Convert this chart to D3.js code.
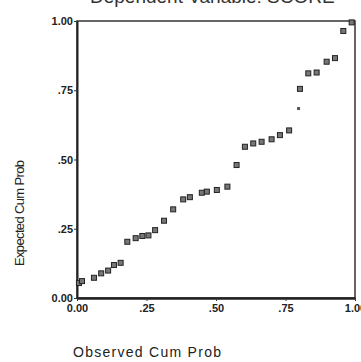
<!DOCTYPE html>
<html>
<head>
<meta charset="utf-8">
<script src="https://cdn.jsdelivr.net/npm/d3@7"></script>
<style>
  body { margin: 0; background: #fff; }
  svg { display: block; }
  .tick text { font-family: "Liberation Sans", Arial, sans-serif; font-weight: bold; font-size: 11px; fill: #222; }
</style>
</head>
<body>
<div id="chart"></div>
<script>
// observed cumulative probability (x) vs expected (y)
const observed = [0.007, 0.018, 0.061, 0.087, 0.112, 0.133, 0.157, 0.181, 0.211, 0.235,
  0.257, 0.281, 0.313, 0.346, 0.382, 0.406, 0.449, 0.467, 0.503, 0.541,
  0.574, 0.604, 0.634, 0.664, 0.700, 0.730, 0.763, 0.802, 0.832, 0.862,
  0.898, 0.928, 0.958, 0.988];
const expected = [0.054, 0.061, 0.073, 0.089, 0.099, 0.119, 0.127, 0.203, 0.216, 0.224,
  0.226, 0.245, 0.279, 0.320, 0.356, 0.364, 0.380, 0.384, 0.390, 0.402,
  0.480, 0.546, 0.558, 0.564, 0.573, 0.588, 0.605, 0.755, 0.811, 0.814,
  0.853, 0.866, 0.964, 0.995];
// a faint stray mark in the scan
const strayPoint = [0.797, 0.684];

const tickValues = [0, 0.25, 0.5, 0.75, 1];
const yTickLabels = ["0.00", ".25", ".50", ".75", "1.00"];
const xTickLabels = ["0.00", ".25", ".50", ".75", "1.00"];

const title = "Dependent Variable: SCORE";
const xTitle = "Observed Cum Prob";
const yTitle = "Expected Cum Prob";

const width = 361, height = 362;
const margin = { top: 21, right: 6, bottom: 64, left: 77 };

const svg = d3.select("#chart").append("svg")
  .attr("width", width)
  .attr("height", height);

const x = d3.scaleLinear().domain([0, 1]).range([margin.left, width - margin.right]);
const y = d3.scaleLinear().domain([0, 1]).range([height - margin.bottom, margin.top]);

// frame
svg.append("rect")
  .attr("x", x(0)).attr("y", y(1))
  .attr("width", x(1) - x(0)).attr("height", y(0) - y(1))
  .attr("fill", "none")
  .attr("stroke", "#333")
  .attr("stroke-width", 1.5);

// axes
const yAxis = svg.append("g")
  .attr("transform", "translate(" + x(0) + ",0)")
  .call(d3.axisLeft(y).tickValues(tickValues).tickSize(3).tickSizeOuter(0)
    .tickFormat((d, i) => yTickLabels[i]));
yAxis.select(".domain").attr("stroke", "#222").attr("stroke-width", 2);
yAxis.selectAll(".tick line").attr("stroke", "#333");
yAxis.selectAll(".tick text").attr("x", -4);

const xAxis = svg.append("g")
  .attr("transform", "translate(0," + y(0) + ")")
  .call(d3.axisBottom(x).tickValues(tickValues).tickSize(3).tickSizeOuter(0)
    .tickFormat((d, i) => xTickLabels[i]));
xAxis.select(".domain").attr("stroke", "#222").attr("stroke-width", 2.5);
xAxis.selectAll(".tick line").attr("stroke", "#333");
xAxis.selectAll(".tick text").attr("y", 6);

// points
const pts = observed.map((d, i) => [d, expected[i]]);
const s = 5;
svg.append("g")
  .selectAll("rect")
  .data(pts)
  .enter().append("rect")
    .attr("x", d => x(d[0]) - s / 2)
    .attr("y", d => y(d[1]) - s / 2)
    .attr("width", s)
    .attr("height", s)
    .attr("fill", "#777")
    .attr("stroke", "#222")
    .attr("stroke-width", 1);

svg.append("rect")
  .attr("x", x(strayPoint[0]) - 1.5)
  .attr("y", y(strayPoint[1]) - 1.5)
  .attr("width", 3).attr("height", 3)
  .attr("fill", "#555");

// titles (the scan cuts the chart title at the top edge)
svg.append("text")
  .attr("x", 90).attr("y", 3)
  .style("font-family", "Liberation Sans, Arial, sans-serif")
  .style("font-size", "19px")
  .attr("fill", "#333")
  .text(title);

svg.append("text")
  .attr("x", 73).attr("y", 357)
  .attr("textLength", 148)
  .style("font-family", "Liberation Sans, Arial, sans-serif")
  .style("font-size", "14px")
  .attr("fill", "#222")
  .text(xTitle);

svg.append("text")
  .attr("transform", "translate(24,213) rotate(-90)")
  .attr("text-anchor", "middle")
  .attr("textLength", 106)
  .style("font-family", "Liberation Sans, Arial, sans-serif")
  .style("font-size", "13px")
  .attr("fill", "#222")
  .text(yTitle);
</script>
</body>
</html>
